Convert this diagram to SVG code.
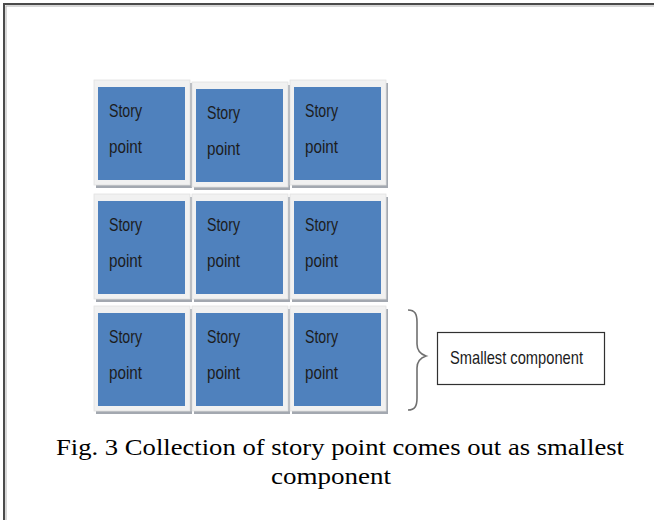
<svg xmlns="http://www.w3.org/2000/svg" width="654" height="520" viewBox="0 0 654 520">
  <style>
    .frame { fill: #f1f1f1; stroke: #e2e2e2; stroke-width: 0.8; }
    .shadow { fill: #a3a8b0; }
    .card { fill: #4f81bd; }
    .lbl { font-family: "Liberation Sans", Arial, sans-serif; font-size: 19px; fill: #1c1c1c; }
    .cap { font-family: "Liberation Serif", "Times New Roman", serif; font-size: 24px; fill: #000; }
  </style>
  <defs>
    <!-- one story-point card: frame, drop shadow, blue face, two text lines -->
    <g id="card">
      <rect class="shadow" x="2" y="3" width="96" height="105"/>
      <rect class="frame" x="0" y="0" width="96" height="105"/>
      <rect class="card" x="4" y="7" width="87" height="93"/>
      <text class="lbl" x="15" y="37" textLength="33" lengthAdjust="spacingAndGlyphs">Story</text>
      <text class="lbl" x="15" y="73" textLength="33" lengthAdjust="spacingAndGlyphs">point</text>
    </g>
  </defs>

  <rect x="0" y="0" width="654" height="520" fill="#ffffff"/>
  <!-- page border (open to the right and bottom) -->
  <rect x="4" y="4" width="680" height="560" fill="none" stroke="#4a4a4a" stroke-width="2"/>
  <rect x="6" y="6" width="680" height="560" fill="none" stroke="#b0b0b0" stroke-width="1"/>

  <g id="row1">
    <use id="sp-1-1" href="#card" x="94" y="80"/>
    <use id="sp-1-2" href="#card" x="192" y="82"/>
    <use id="sp-1-3" href="#card" x="290" y="80"/>
  </g>
  <g id="row2">
    <use id="sp-2-1" href="#card" x="94" y="194"/>
    <use id="sp-2-2" href="#card" x="192" y="194"/>
    <use id="sp-2-3" href="#card" x="290" y="194"/>
  </g>
  <g id="row3">
    <use id="sp-3-1" href="#card" x="94" y="306"/>
    <use id="sp-3-2" href="#card" x="192" y="306"/>
    <use id="sp-3-3" href="#card" x="290" y="306"/>
  </g>

  <g id="connectors">
    <!-- curly brace grouping the bottom row -->
    <path d="M408,310 C415,310 417,314 417,322 L417,344 C417,350 420,354 426,356 C420,358 417,362 417,368 L417,398 C417,406 415,410 408,410"
          fill="none" stroke="#707070" stroke-width="1.6"/>
  </g>

  <g id="smallest-component">
    <rect x="437.5" y="332.5" width="167" height="52" fill="#ffffff" stroke="#303030" stroke-width="1.2"/>
    <text class="lbl" x="450" y="364" font-size="18" textLength="133" lengthAdjust="spacingAndGlyphs">Smallest component</text>
  </g>

  <g id="caption">
    <text class="cap" x="340" y="455" text-anchor="middle" textLength="568" lengthAdjust="spacingAndGlyphs">Fig. 3 Collection of story point comes out as smallest</text>
    <text class="cap" x="331" y="484" text-anchor="middle" textLength="120" lengthAdjust="spacingAndGlyphs">component</text>
  </g>
</svg>
